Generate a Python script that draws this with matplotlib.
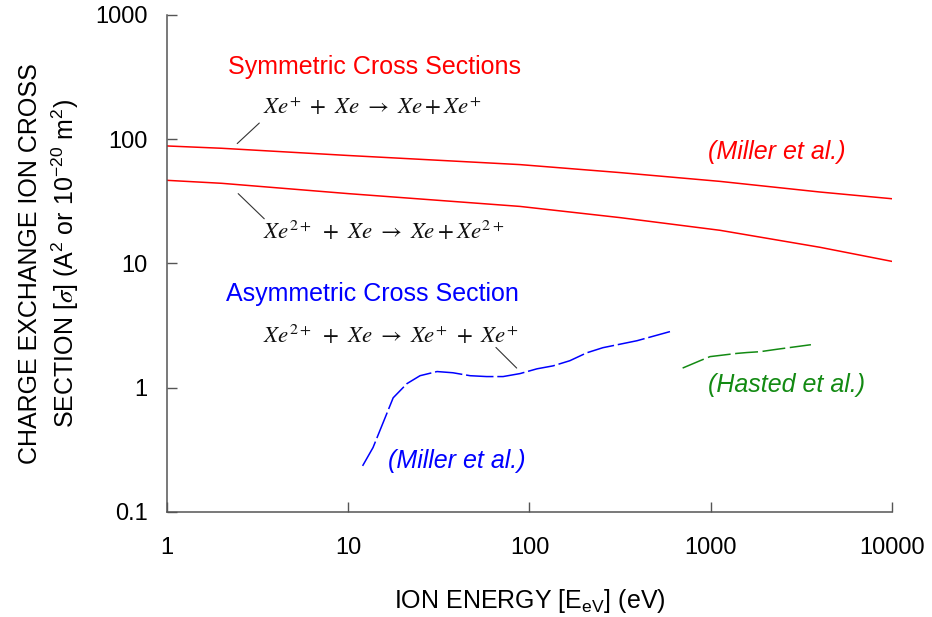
import matplotlib
matplotlib.use("Agg")
import matplotlib.pyplot as plt

plt.rcParams["font.family"] = ["Liberation Sans", "DejaVu Sans"]
plt.rcParams["mathtext.fontset"] = "stix"

# Symmetric charge exchange (Miller et al.)
sym_energy = [1, 2, 10, 88.6, 316, 1125, 4009, 10000]
xe1_sigma = [88.3, 84.6, 74.0, 62.5, 53.9, 45.8, 37.6, 33.2]
xe2_sigma = [46.7, 44.2, 36.5, 28.8, 23.4, 18.5, 13.5, 10.4]

# Asymmetric Xe2+ + Xe -> Xe+ + Xe+ (Miller et al.)
asym_energy = [12.0, 13.7, 17.7, 21.1, 24.9, 30.9, 37.8, 47, 58, 71.5, 88.7,
               110, 135, 167, 207, 254, 392, 596]
asym_sigma = [0.235, 0.33, 0.83, 1.08, 1.25, 1.35, 1.32, 1.25, 1.23, 1.23, 1.30,
              1.42, 1.50, 1.65, 1.91, 2.10, 2.39, 2.83]

# Hasted et al.
hasted_energy = [700, 873, 991, 1396, 1585, 1871, 2321, 3573]
hasted_sigma = [1.44, 1.65, 1.78, 1.89, 1.92, 1.95, 2.04, 2.22]

x_ticks = [1, 10, 100, 1000, 10000]
x_ticklabels = ["1", "10", "100", "1000", "10000"]
y_ticks = [0.1, 1, 10, 100, 1000]
y_ticklabels = ["0.1", "1", "10", "100", "1000"]

RED = "#ff0000"
BLUE = "#0000ff"
GREEN = "#138a13"

fig = plt.figure(figsize=(9.32, 6.17), dpi=100)
ax = fig.add_axes([0.1792, 0.1702, 0.7778, 0.8055])

ax.plot(sym_energy, xe1_sigma, color=RED, lw=1.1)
ax.plot(sym_energy, xe2_sigma, color=RED, lw=1.1)
ax.plot(asym_energy, asym_sigma, color=BLUE, lw=1.1, dashes=(18, 2.5))
ax.plot(hasted_energy, hasted_sigma, color=GREEN, lw=1.1, dashes=(15, 3))

ax.set_xscale("log")
ax.set_yscale("log")
ax.set_xlim(1, 10000)
ax.set_ylim(0.1, 1000)
ax.set_xticks(x_ticks)
ax.set_xticklabels(x_ticklabels)
ax.set_yticks(y_ticks)
ax.set_yticklabels(y_ticklabels)
ax.minorticks_off()
ax.tick_params(axis="both", direction="in", length=7, width=1, color="#555555",
               labelsize=17)
ax.tick_params(axis="x", pad=18)
ax.tick_params(axis="y", pad=14)

for side in ("top", "right"):
    ax.spines[side].set_visible(False)
for side in ("left", "bottom"):
    ax.spines[side].set_color("#555555")
    ax.spines[side].set_linewidth(1.1)

ax.set_xlabel(r"ION ENERGY [E$\mathregular{_{eV}}$] (eV)", fontsize=18, labelpad=20)
ax.set_ylabel("CHARGE EXCHANGE ION CROSS\n"
              r"SECTION [$\sigma$] (A$\mathregular{^{2}}$ or 10$\mathregular{^{-20}}$ m$\mathregular{^{2}}$)",
              fontsize=18, linespacing=1.3, labelpad=10)

ax.text(2.17, 380, "Symmetric Cross Sections", color=RED, fontsize=18,
        ha="left", va="center")
ax.text(2.12, 5.73, "Asymmetric Cross Section", color=BLUE, fontsize=18,
        ha="left", va="center")
ax.text(966, 78.6, "(Miller et al.)", color=RED, fontsize=18, style="italic",
        ha="left", va="center")
ax.text(16.6, 0.258, "(Miller et al.)", color=BLUE, fontsize=18, style="italic",
        ha="left", va="center")
ax.text(966, 1.06, "(Hasted et al.)", color=GREEN, fontsize=18, style="italic",
        ha="left", va="center")

eq_kw = dict(fontsize=16.5, ha="left", va="center", color="#111111")
ax.text(3.39, 181, r"$Xe^{+}\ +\ Xe \ \rightarrow\ Xe + Xe^{+}$", **eq_kw)
ax.text(3.39, 17.8, r"$Xe^{2+}\ +\ Xe \ \rightarrow\ Xe + Xe^{2+}$", **eq_kw)
ax.text(3.39, 2.63, r"$Xe^{2+}\ +\ Xe \ \rightarrow\ Xe^{+}\ +\ Xe^{+}$", **eq_kw)

leader = dict(arrowstyle="-", color="#333333", lw=0.8, shrinkA=0, shrinkB=0)
ax.annotate("", xy=(2.44, 92.3), xytext=(3.23, 135), arrowprops=leader)
ax.annotate("", xy=(2.47, 36.5), xytext=(3.44, 22.9), arrowprops=leader)
ax.annotate("", xy=(85, 1.44), xytext=(65.3, 2.11), arrowprops=leader)

fig.savefig("out.png", dpi=100)
